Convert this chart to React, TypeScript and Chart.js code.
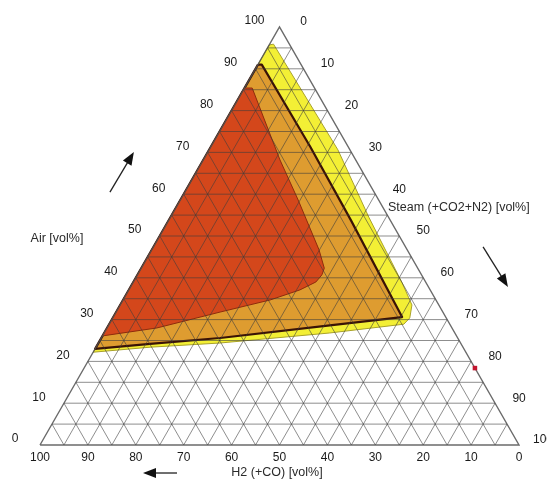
import React, { useEffect, useRef } from "react";
import { Chart, registerables } from "chart.js";

Chart.register(...registerables);

// Tick labels on the three ternary axes (vol%)
const tickValues = [0, 10, 20, 30, 40, 50, 60, 70, 80, 90, 100];
// Grid levels (every 5 vol%)
const gridSteps = [5, 10, 15, 20, 25, 30, 35, 40, 45, 50, 55, 60, 65, 70, 75, 80, 85, 90, 95];

// Regions: boundary points given as Air [vol%] and Steam [vol%]; H2 = 100 - Air - Steam
const yellowAir = [95.7, 95.9, 70.6, 54.5, 38.8, 33.5, 30.4, 28.9, 26.8, 24.4, 23.4, 22.2];
const yellowSteam = [0, 0.8, 26.9, 41.4, 56.2, 60.9, 62.0, 61.5, 47.1, 25.4, 11.3, 0];

const orangeAir = [91.0, 91.0, 71.3, 53.8, 30.6, 28.6, 25.6, 24.2, 23.0];
const orangeSteam = [0, 0.8, 20.8, 38.0, 60.3, 46.2, 24.8, 10.9, 0];

const redAir = [85.4, 85.4, 68.2, 58.6, 46.7, 42.3, 40.7, 39.0, 37.1, 34.7, 31.8, 28.0, 26.1];
const redSteam = [0, 1.6, 16.0, 24.6, 34.9, 38.2, 38.5, 38.1, 35.7, 30.7, 21.7, 10.4, 0];

// Single marker on the H2 = 0 edge
const markerAir = [18.4];
const markerSteam = [81.6];

const FONT = '"Liberation Sans", Arial, sans-serif';

const toXY = (a: number, s: number) => ({ x: (s + a / 2) / 100, y: a / 100 });
const polygon = (air: number[], steam: number[]) =>
  air.map((a, i) => toXY(a, steam[i])).concat([toXY(air[0], steam[0])]);

function gridFamily(kind: "air" | "steam" | "h2") {
  const pts: any[] = [];
  for (const k of gridSteps) {
    let p0, p1;
    if (kind === "air") {
      p0 = toXY(k, 0);
      p1 = toXY(k, 100 - k);
    } else if (kind === "steam") {
      p0 = toXY(0, k);
      p1 = toXY(100 - k, k);
    } else {
      p0 = toXY(0, 100 - k);
      p1 = toXY(100 - k, 0);
    }
    pts.push(p0, p1, { x: p1.x, y: null });
  }
  return pts;
}

function drawArrow(ctx: CanvasRenderingContext2D, x0: number, y0: number, x1: number, y1: number) {
  const ang = Math.atan2(y1 - y0, x1 - x0);
  const len = 13;
  const hw = 5;
  ctx.beginPath();
  ctx.moveTo(x0, y0);
  ctx.lineTo(x1 - Math.cos(ang) * len * 0.8, y1 - Math.sin(ang) * len * 0.8);
  ctx.strokeStyle = "#222";
  ctx.lineWidth = 1.3;
  ctx.stroke();
  ctx.beginPath();
  ctx.moveTo(x1, y1);
  ctx.lineTo(x1 - Math.cos(ang) * len + Math.sin(ang) * hw, y1 - Math.sin(ang) * len - Math.cos(ang) * hw);
  ctx.lineTo(x1 - Math.cos(ang) * len - Math.sin(ang) * hw, y1 - Math.sin(ang) * len + Math.cos(ang) * hw);
  ctx.closePath();
  ctx.fillStyle = "#111";
  ctx.fill();
}

const labelsPlugin = {
  id: "ternaryLabels",
  afterDraw(chart: any) {
    const { ctx } = chart;
    const xs = chart.scales.x;
    const ys = chart.scales.y;
    const P = (X: number, Y: number) => [xs.getPixelForValue(X), ys.getPixelForValue(Y)];
    const T = (a: number, s: number) => {
      const p = toXY(a, s);
      return P(p.x, p.y);
    };
    ctx.save();
    ctx.fillStyle = "#1a1a1a";
    ctx.font = `12px ${FONT}`;
    ctx.textAlign = "center";
    ctx.textBaseline = "middle";
    for (const v of tickValues) {
      // Air axis (left edge)
      let [px, py] = T(v, 0);
      ctx.fillText(String(v), px - 25, py - 6);
      // Steam axis (right edge)
      [px, py] = T(100 - v, v);
      ctx.fillText(String(v), px + 24, py - 5);
      // H2 axis (bottom edge)
      [px, py] = T(0, 100 - v);
      ctx.fillText(String(v), px, py + 13);
    }
    ctx.font = `12.5px ${FONT}`;
    ctx.fillStyle = "#2a2a2a";
    let [tx, ty] = P(0.0355, 0.495);
    ctx.fillText("Air [vol%]", tx, ty);
    [tx, ty] = P(0.4948, -0.067);
    ctx.fillText("H2 (+CO) [vol%]", tx, ty);
    ctx.textAlign = "left";
    [tx, ty] = P(0.7265, 0.567);
    ctx.fillText("Steam (+CO2+N2) [vol%]", tx, ty);

    // direction arrows
    let [a0, b0] = P(0.146, 0.605);
    let [a1, b1] = P(0.196, 0.701);
    drawArrow(ctx, a0, b0, a1, b1);
    [a0, b0] = P(0.925, 0.474);
    [a1, b1] = P(0.977, 0.378);
    drawArrow(ctx, a0, b0, a1, b1);
    [a0, b0] = P(0.286, -0.067);
    [a1, b1] = P(0.215, -0.067);
    drawArrow(ctx, a0, b0, a1, b1);
    ctx.restore();
  },
};

export default function App() {
  const ref = useRef<HTMLCanvasElement | null>(null);

  useEffect(() => {
    if (!ref.current) return;
    const gridColor = "rgba(60,60,60,0.58)";
    const chart = new Chart(ref.current, {
      type: "line",
      data: {
        datasets: [
          {
            data: polygon(yellowAir, yellowSteam),
            fill: "shape",
            backgroundColor: "#f3ef35",
            borderColor: "#a9a22a",
            borderWidth: 1,
            pointRadius: 0,
            order: 6,
            clip: false,
          },
          {
            data: polygon(orangeAir, orangeSteam),
            fill: "shape",
            backgroundColor: "#de9c30",
            borderColor: "#3a1306",
            borderWidth: 2.2,
            borderJoinStyle: "round",
            pointRadius: 0,
            order: 5,
            clip: false,
          },
          {
            data: polygon(redAir, redSteam),
            fill: "shape",
            backgroundColor: "#d4471b",
            borderColor: "#8e2c0c",
            borderWidth: 1,
            pointRadius: 0,
            order: 4,
            clip: false,
          },
          {
            data: gridFamily("air"),
            borderColor: gridColor,
            borderWidth: 1,
            pointRadius: 0,
            fill: false,
            order: 2,
            clip: false,
          },
          {
            data: gridFamily("steam"),
            borderColor: gridColor,
            borderWidth: 1,
            pointRadius: 0,
            fill: false,
            order: 2,
            clip: false,
          },
          {
            data: gridFamily("h2"),
            borderColor: gridColor,
            borderWidth: 1,
            pointRadius: 0,
            fill: false,
            order: 2,
            clip: false,
          },
          {
            data: [toXY(0, 0), toXY(0, 100), toXY(100, 0), toXY(0, 0)],
            borderColor: "rgba(80,80,80,0.85)",
            borderWidth: 1.4,
            pointRadius: 0,
            fill: false,
            order: 1,
            clip: false,
          },
          {
            data: markerAir.map((a, i) => toXY(a, markerSteam[i])),
            showLine: false,
            pointStyle: "rect",
            pointRadius: 3.2,
            pointBackgroundColor: "#c3152f",
            pointBorderWidth: 0,
            order: 0,
            clip: false,
          },
        ] as any,
      },
      options: {
        animation: false,
        responsive: false,
        events: [],
        layout: { padding: { left: 40, right: 28, top: 27, bottom: 36 } },
        scales: {
          x: { type: "linear", min: 0, max: 1, display: false },
          y: { type: "linear", min: 0, max: 1, display: false },
        },
        plugins: {
          legend: { display: false },
          tooltip: { enabled: false },
        },
        elements: { line: { tension: 0 } },
      } as any,
      plugins: [labelsPlugin],
    });
    return () => chart.destroy();
  }, []);

  return (
    <div style={{ position: "fixed", left: 0, top: 0, width: 547, height: 481, background: "#fff" }}>
      <canvas ref={ref} width={547} height={481} style={{ display: "block" }} />
    </div>
  );
}
